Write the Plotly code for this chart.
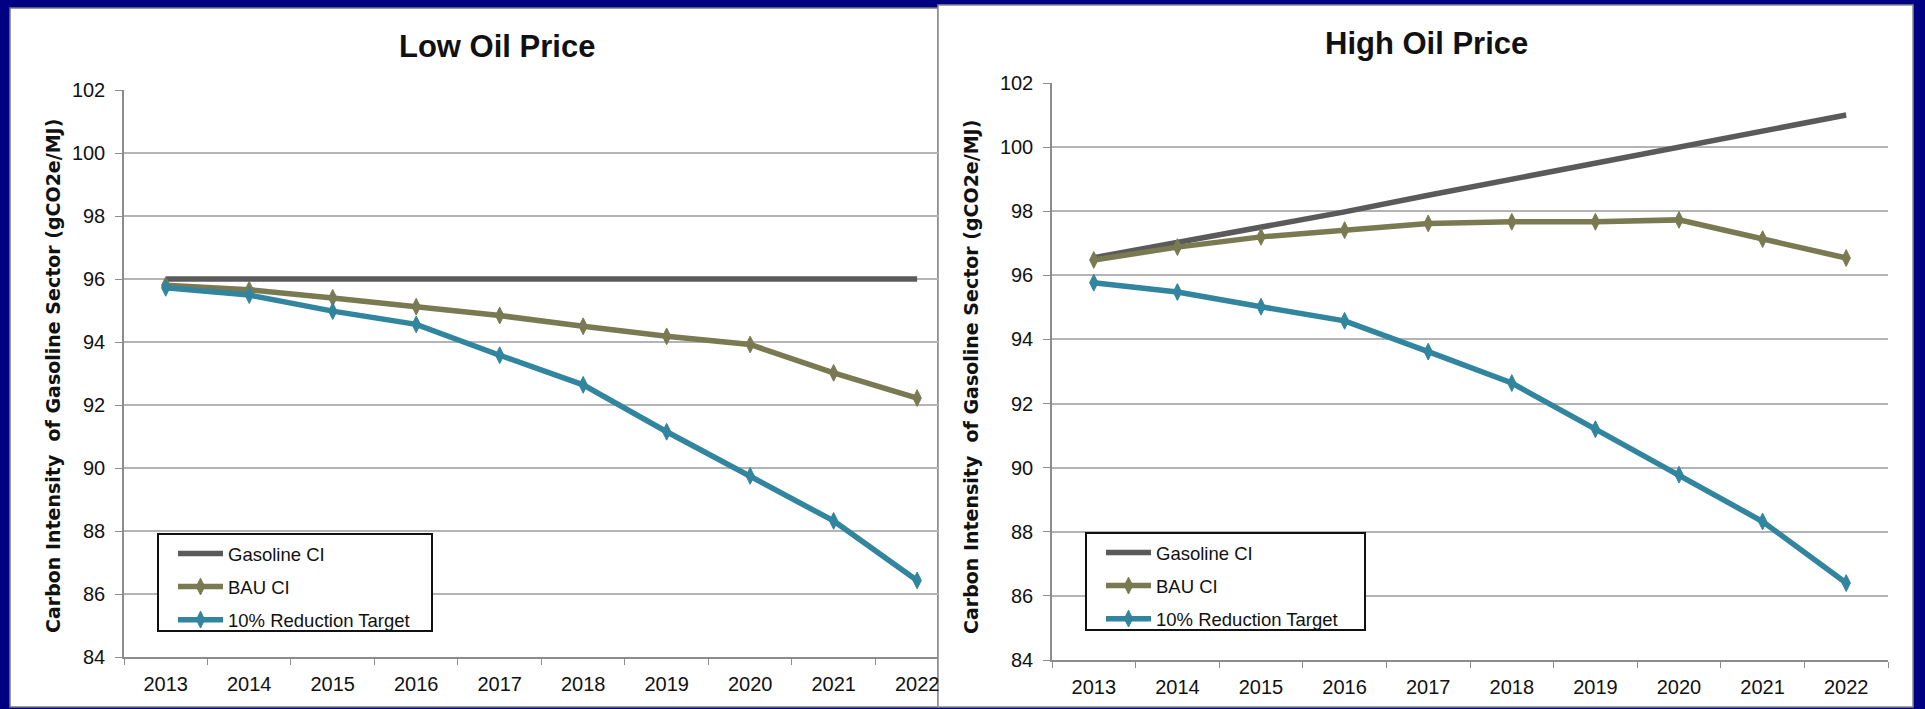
import plotly.graph_objects as go

W, H = 1925, 709

years = ["2013", "2014", "2015", "2016", "2017", "2018", "2019", "2020", "2021", "2022"]
y_ticks = [84, 86, 88, 90, 92, 94, 96, 98, 100, 102]

low_gasoline = [96.0, 96.0, 96.0, 96.0, 96.0, 96.0, 96.0, 96.0, 96.0, 96.0]
low_bau = [95.8, 95.66, 95.4, 95.12, 94.84, 94.5, 94.18, 93.92, 93.02, 92.22]
low_target = [95.72, 95.49, 94.98, 94.56, 93.58, 92.64, 91.15, 89.75, 88.32, 86.43]

high_gasoline = [96.55, 97.02, 97.5, 97.98, 98.5, 99.0, 99.5, 100.0, 100.5, 101.0]
high_bau = [96.48, 96.88, 97.2, 97.41, 97.62, 97.67, 97.67, 97.73, 97.13, 96.54]
high_target = [95.77, 95.48, 95.02, 94.58, 93.62, 92.64, 91.2, 89.78, 88.32, 86.4]

series_names = ["Gasoline CI", "BAU CI", "10% Reduction Target"]
colors = ["#5a5a5a", "#7a7a52", "#31859e"]

FONT = "Liberation Sans, Arial, sans-serif"


def px(x):
    return x / W


def py(y):
    return 1 - y / H


fig = go.Figure()

panels = [
    dict(xa="x", ya="y", legend="legend",
         data=[low_gasoline, low_bau, low_target]),
    dict(xa="x2", ya="y2", legend="legend2",
         data=[high_gasoline, high_bau, high_target]),
]

for p in panels:
    for i, (name, vals, col) in enumerate(zip(series_names, p["data"], colors)):
        has_marker = i > 0
        fig.add_trace(go.Scatter(
            x=years, y=vals, name=name,
            mode="lines+markers" if has_marker else "lines",
            line=dict(color=col, width=5.5),
            marker=dict(symbol="diamond-tall", size=12, color=col,
                        line=dict(color=col, width=1)),
            xaxis=p["xa"], yaxis=p["ya"], legend=p["legend"],
            legendgroup=p["legend"] + str(i),
            showlegend=True,
        ))

xaxis_common = dict(
    type="category", showgrid=False, showline=True, linecolor="#8c8c8c",
    linewidth=1.5, ticks="outside", ticklen=6, tickcolor="#8c8c8c",
    tickson="boundaries", tickfont=dict(family=FONT, size=20, color="#111"),
    ticklabelstandoff=8, zeroline=False, fixedrange=True, automargin=False,
)
yaxis_common = dict(
    range=[84, 102], tickvals=y_ticks, showgrid=True, gridcolor="#b4b4b4",
    gridwidth=2, showline=True, linecolor="#8c8c8c", linewidth=1.5,
    ticks="outside", ticklen=7, tickcolor="#8c8c8c",
    tickfont=dict(family=FONT, size=20, color="#111"),
    ticklabelstandoff=6, zeroline=False, fixedrange=True, automargin=False,
)

legend_common = dict(
    bgcolor="rgba(0,0,0,0)", borderwidth=0,
    font=dict(family=FONT, size=18.5, color="#111"),
    xanchor="left", yanchor="top", traceorder="grouped",
    tracegroupgap=6, itemwidth=45,
)

fig.update_layout(
    width=W, height=H, autosize=False,
    margin=dict(l=0, r=0, t=0, b=0, pad=0, autoexpand=False),
    paper_bgcolor="#000082", plot_bgcolor="white",
    xaxis=dict(xaxis_common, domain=[px(124), px(938)], range=[-0.5, 9.25], anchor="y"),
    yaxis=dict(yaxis_common, domain=[py(657), py(90)], anchor="x"),
    xaxis2=dict(xaxis_common, domain=[px(1052), px(1888)], range=[-0.5, 9.5], anchor="y2"),
    yaxis2=dict(yaxis_common, domain=[py(660), py(83)], anchor="x2"),
    legend=dict(legend_common, x=px(173), y=py(535)),
    legend2=dict(legend_common, x=px(1101), y=py(534)),
    shapes=[
        dict(type="rect", xref="paper", yref="paper", layer="below",
             x0=px(10), x1=px(938), y0=py(707), y1=py(8),
             fillcolor="white", line=dict(color="#7a7a7a", width=1.5)),
        dict(type="rect", xref="paper", yref="paper", layer="below",
             x0=px(938), x1=px(1913), y0=py(707), y1=py(5),
             fillcolor="white", line=dict(color="#8a8a8a", width=1.5)),
        dict(type="rect", xref="paper", yref="paper", layer="above",
             x0=px(158), x1=px(432), y0=py(631), y1=py(534),
             fillcolor="white", line=dict(color="#111", width=2)),
        dict(type="rect", xref="paper", yref="paper", layer="above",
             x0=px(1086), x1=px(1365), y0=py(630), y1=py(533),
             fillcolor="white", line=dict(color="#111", width=2)),
    ],
    annotations=[
        dict(text="<b>Low Oil Price</b>", xref="paper", yref="paper",
             x=px(497), y=py(46), xanchor="center", yanchor="middle",
             showarrow=False, font=dict(family=FONT, size=31, color="#111")),
        dict(text="<b>High Oil Price</b>", xref="paper", yref="paper",
             x=px(1426), y=py(43), xanchor="center", yanchor="middle",
             showarrow=False, font=dict(family=FONT, size=31, color="#111")),
        dict(text="<b>Carbon Intensity  of Gasoline Sector (gCO2e/MJ)</b>",
             xref="paper", yref="paper", x=px(53), y=py(376),
             xanchor="center", yanchor="middle", textangle=-90,
             showarrow=False, font=dict(family="DejaVu Sans, sans-serif", size=19, color="#111")),
        dict(text="<b>Carbon Intensity  of Gasoline Sector (gCO2e/MJ)</b>",
             xref="paper", yref="paper", x=px(971), y=py(377),
             xanchor="center", yanchor="middle", textangle=-90,
             showarrow=False, font=dict(family="DejaVu Sans, sans-serif", size=19, color="#111")),
    ],
)

fig.write_html(
    "out.html",
    config=dict(displayModeBar=False),
    post_script="document.documentElement.style.margin='0';document.body.style.margin='0';document.body.style.padding='0';document.body.style.overflow='hidden';",
)
